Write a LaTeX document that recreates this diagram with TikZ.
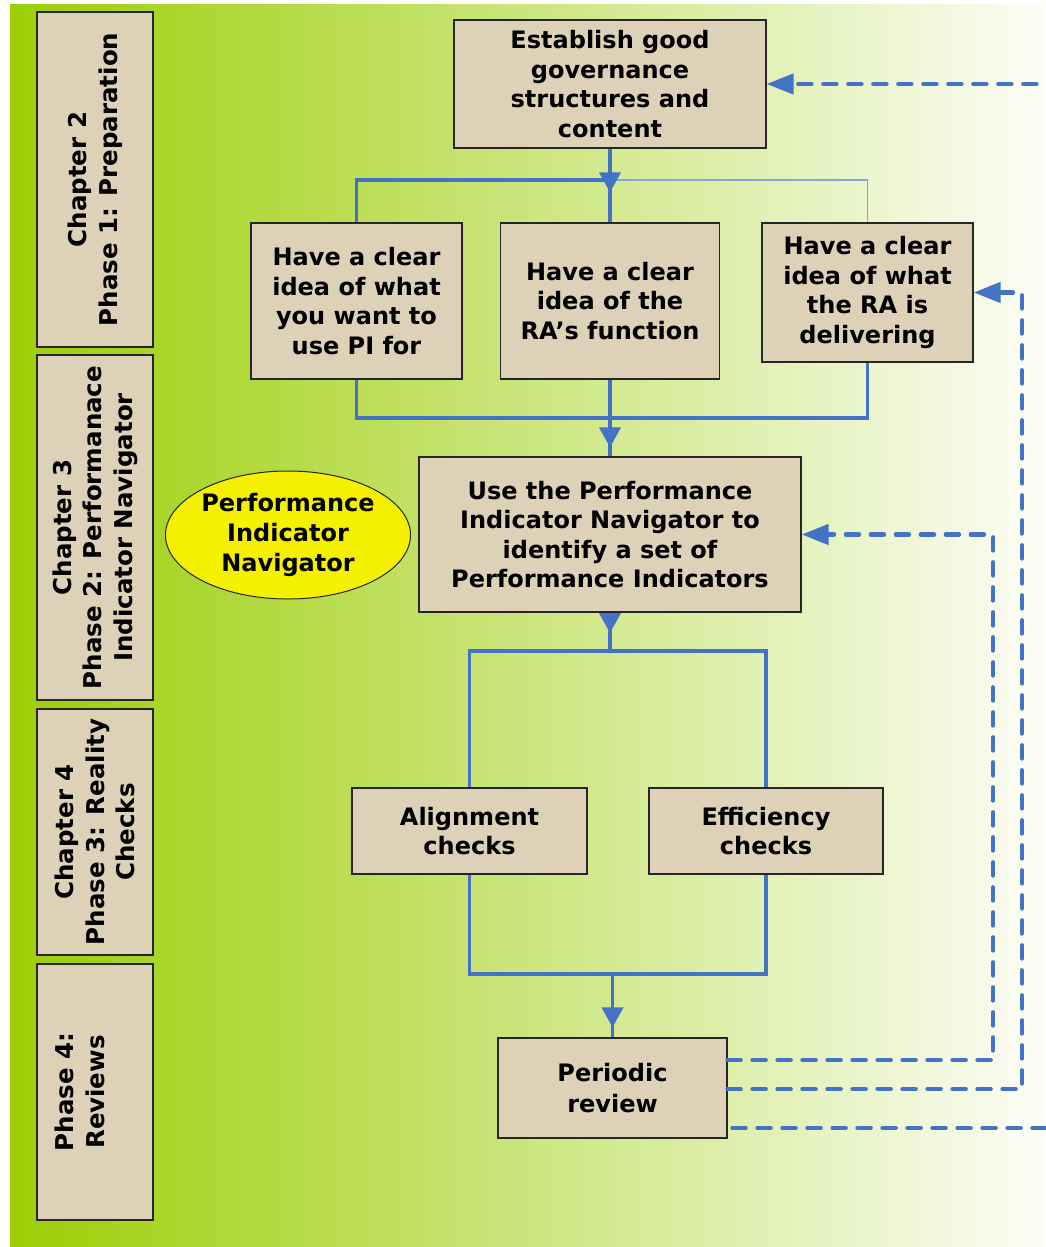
\documentclass[tikz,border=0pt]{standalone}
\usepackage{fontspec}
\setmainfont{DejaVu Sans}
\usetikzlibrary{calc}
\usetikzlibrary{positioning}
\usetikzlibrary{arrows.meta}
\usetikzlibrary{shapes.geometric}

\definecolor{boxtan}{RGB}{221,210,184}
\definecolor{flowblue}{RGB}{68,114,196}
\definecolor{flowpale}{RGB}{130,165,220}
\definecolor{navyellow}{RGB}{245,240,0}
\definecolor{bgleft}{RGB}{155,206,5}
\definecolor{bgmid}{RGB}{205,231,135}
\definecolor{bgright}{RGB}{252,253,246}

\begin{document}
\begin{tikzpicture}[x=1pt, y=-1pt,
        stepbox/.style={draw=black!85, line width=1.2pt, fill=boxtan, inner sep=0pt, align=center,
            font=\fontsize{24}{29.5}\selectfont\bfseries},
        phasebox/.style={stepbox, rotate=90, minimum height=116pt,
            font=\fontsize{24.5}{30.5}\selectfont\bfseries},
        flow/.style={flowblue, line width=3.8pt},
        flowthin/.style={flowpale, line width=1.5pt},
        tip/.style={-{Triangle[length=20pt,width=21pt]}},
        back/.style={flowblue, line width=4.5pt, dash pattern=on 13pt off 12pt, line cap=round,
            -{Triangle[length=27pt,width=20pt]}}]

    \useasboundingbox (0,0) rectangle (1045,1247);

    % Background
    \fill[left color=bgleft, middle color=bgmid, right color=bgright] (10,5) rectangle (1045,1247);

    % Phase column
    \node[phasebox, minimum width=335pt] (phase1) at (95,179.5) {Chapter 2\\Phase 1: Preparation};
    \node[phasebox, minimum width=345pt] (phase2) at (95,527.5) {Chapter 3\\Phase 2: Performanace\\Indicator Navigator};
    \node[phasebox, minimum width=246pt] (phase3) at (95,832) {Chapter 4\\Phase 3: Reality\\Checks};
    \node[phasebox, minimum width=256pt] (phase4) at (95,1092) {Phase 4:\\Reviews\\\mbox{}};

    % Steps
    \node[stepbox, minimum width=312pt, minimum height=128pt] (govern) at (610,84) {Establish good\\governance\\structures and\\content};
    \node[stepbox, minimum width=211pt, minimum height=156pt] (usepi) at (356.5,301) {Have a clear\\idea of what\\you want to\\use PI for};
    \node[stepbox, minimum width=219pt, minimum height=156pt] (rafunc) at (610,301) {Have a clear\\idea of the\\RA’s function};
    \node[stepbox, minimum width=211pt, minimum height=139pt] (radeliv) at (867.5,292.5) {Have a clear\\idea of what\\the RA is\\delivering};
    \node[stepbox, minimum width=382pt, minimum height=155pt] (pin) at (610,534.5) {Use the Performance\\Indicator Navigator to\\identify a set of\\Performance Indicators};
    \node[ellipse, draw=black!85, line width=1pt, fill=navyellow, inner sep=0pt, align=center,
        minimum width=240pt, minimum height=128pt, font=\fontsize{24}{30}\selectfont\bfseries] (navigator) at (288,535) {Performance\\Indicator\\Navigator};
    \node[stepbox, minimum width=235pt, minimum height=86pt] (align) at (469.5,831) {Alignment\\checks};
    \node[stepbox, minimum width=234pt, minimum height=86pt] (effic) at (766,831) {Efficiency\\checks};
    \node[stepbox, minimum width=229pt, minimum height=100pt, font=\fontsize{24}{31}\selectfont\bfseries] (review) at (612.5,1088) {Periodic\\review};

    % Fan out from governance
    \coordinate (splitA) at (610,180);
    \draw[flow] (govern.south) -- (rafunc.north);
    \draw[flow] (usepi.north) |- (splitA);
    \draw[flowthin] (radeliv.north) |- (splitA);
    \draw[flow, tip, shorten >=30pt] (govern.south) -- (rafunc.north);

    % Join into navigator step
    \coordinate (joinA) at (610,418);
    \draw[flow] (usepi.south) |- (joinA) -| (radeliv.south);
    \draw[flow] (rafunc.south) -- (pin.north);
    \draw[flow, tip, shorten >=9pt] (rafunc.south) -- (pin.north);

    % Split to checks
    \coordinate (splitB) at (610,651);
    \draw[flow] (pin.south) -- (splitB);
    \draw[flow, tip, shorten >=18pt] (pin.south) -- (splitB);
    \draw[flow] (align.north) |- (splitB) -| (effic.north);

    % Join to review
    \coordinate (joinB) at (612.5,974);
    \draw[flow] (align.south) |- (joinB) -| (effic.south);
    \draw[flow] (joinB) -- (review.north);
    \draw[flow, tip, shorten >=10pt] (joinB) -- (review.north);

    % Feedback loops
    \coordinate (loopA) at (993,1060);
    \coordinate (loopB) at (1022,1089);
    \coordinate (loopC) at (1075,1128);
    \draw[back] (review.east |- loopA) -- (loopA) |- (pin.east);
    \draw[back] (review.east |- loopB) -- (loopB) |- (radeliv.east);
    \draw[back] ([xshift=5pt]review.east |- loopC) -- (loopC) |- (govern.east);

\end{tikzpicture}
\end{document}
